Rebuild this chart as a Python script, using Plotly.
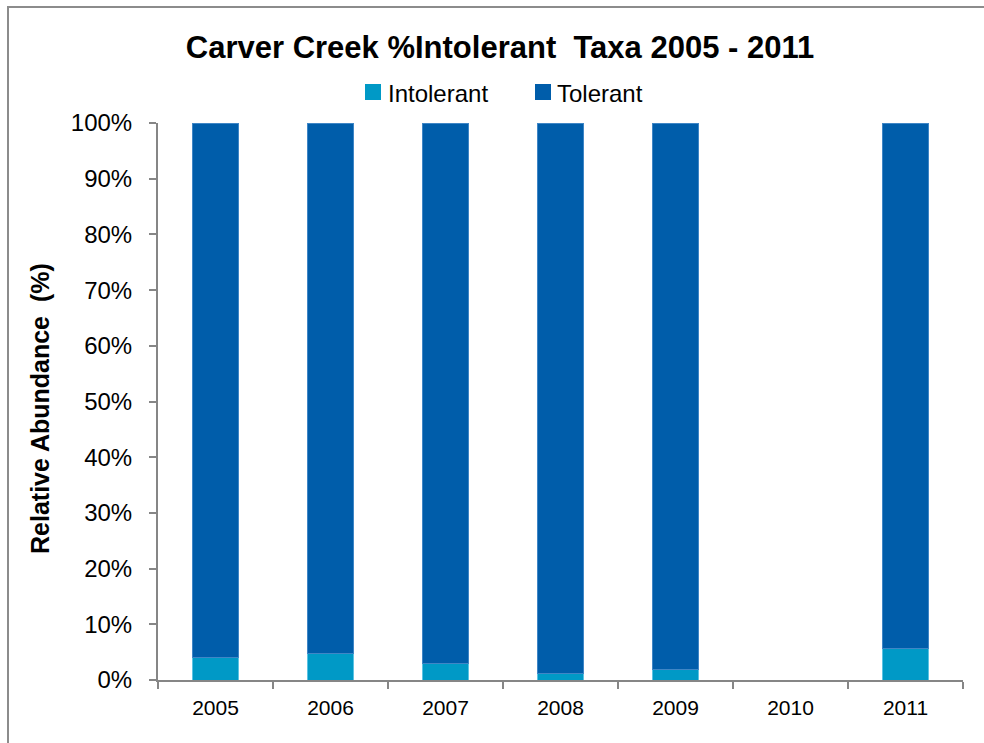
import plotly.graph_objects as go

years = ["2005", "2006", "2007", "2008", "2009", "2010", "2011"]
intolerant = [4.0, 4.7, 2.9, 1.1, 1.8, None, 5.7]
tolerant = [96.0, 95.3, 97.1, 98.9, 98.2, None, 94.3]
y_ticks = [0, 10, 20, 30, 40, 50, 60, 70, 80, 90, 100]
y_tick_labels = [f"{v}%" for v in y_ticks]

series = [
    ("Intolerant", intolerant, "#0099C6", "#5CC3E3"),
    ("Tolerant", tolerant, "#005DAA", "#3F86C6"),
]

FONT = "Liberation Sans, Arial, sans-serif"
AXIS_GREY = "#868686"

fig = go.Figure()
for name, vals, fill, edge in series:
    fig.add_trace(go.Bar(
        name=name, x=years, y=vals,
        marker=dict(color=fill, line=dict(color=edge, width=1)),
        width=0.4, showlegend=False,
    ))

W, H = 984, 743
L, R, T, B = 158, 21, 123, 63
pw, ph = W - L - R, H - T - B

def px_x(x):
    return (x - L) / pw

def px_y(y):
    return (H - B - y) / ph

fig.update_layout(
    barmode="stack",
    width=W, height=H,
    margin=dict(l=L, r=R, t=T, b=B),
    paper_bgcolor="white",
    plot_bgcolor="white",
    font=dict(family=FONT, color="black"),
    title=dict(
        text="<b>Carver Creek %Intolerant\u00a0 Taxa 2005 - 2011</b>",
        font=dict(size=31, family=FONT, color="black"),
        x=500 / W, xanchor="center", xref="container",
        y=1 - 47 / H, yanchor="middle", yref="container",
    ),
    showlegend=False,
    bargap=0.6,
)

fig.update_xaxes(
    type="category",
    showgrid=False,
    showline=True, linecolor=AXIS_GREY, linewidth=2,
    ticks="outside", tickson="boundaries", ticklen=7, tickcolor=AXIS_GREY, tickwidth=2,
    tickfont=dict(size=21, family=FONT, color="black"),
    ticklabelstandoff=8,
    zeroline=False,
)
fig.update_yaxes(
    range=[0, 100],
    tickvals=y_ticks, ticktext=y_tick_labels,
    showgrid=False,
    showline=True, linecolor=AXIS_GREY, linewidth=2,
    ticks="outside", ticklen=7, tickcolor=AXIS_GREY, tickwidth=2,
    tickfont=dict(size=24, family=FONT, color="black"),
    ticklabelstandoff=12,
    zeroline=False,
)

# legend: colour key squares with the series names beside them
legend_pos = [(365, 386), (535, 555)]
for (name, _, fill, _), (sq_x, txt_x) in zip(series, legend_pos):
    fig.add_shape(
        type="rect", xref="paper", yref="paper",
        x0=px_x(sq_x), x1=px_x(sq_x + 16), y0=px_y(100), y1=px_y(84),
        fillcolor=fill, line=dict(width=0),
    )
    fig.add_annotation(
        text=name, xref="paper", yref="paper",
        x=px_x(txt_x), y=px_y(93), xanchor="left", yanchor="middle",
        showarrow=False, font=dict(size=24, family=FONT, color="black"),
    )

# y-axis title
fig.add_annotation(
    text="<b>Relative Abundance\u00a0 (%)</b>",
    xref="paper", yref="paper",
    x=px_x(40), y=px_y(408),
    textangle=-90, showarrow=False,
    font=dict(size=25, family=FONT, color="black"),
    xanchor="center", yanchor="middle",
)

# chart frame
fig.add_shape(
    type="rect", xref="paper", yref="paper",
    x0=px_x(8), x1=px_x(1010), y0=px_y(770), y1=px_y(7),
    line=dict(color="#8C8C8C", width=2),
    fillcolor="rgba(0,0,0,0)", layer="below",
)

fig.write_html("out.html")
